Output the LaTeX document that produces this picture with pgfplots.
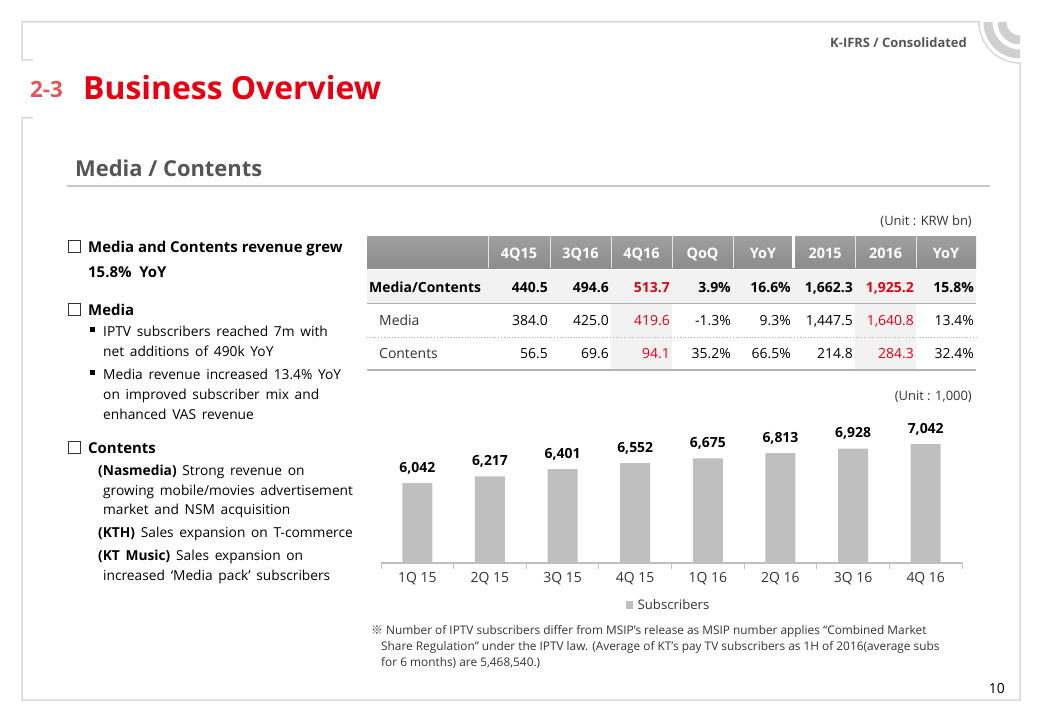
\documentclass[border=0pt]{standalone}
\usepackage{fontspec}
\setmainfont{Open Sans}
\newfontfamily\cjk{Noto Sans CJK KR}
\newfontfamily\lt[WordSpace=1.6]{Open Sans}
\usepackage{pgfplots}
\pgfplotsset{compat=1.18}
\definecolor{ktred}{HTML}{E60012}
\definecolor{ktred2}{HTML}{E2555C}
\definecolor{framec}{HTML}{D9D9D9}
\definecolor{txt}{HTML}{333333}
\definecolor{headc}{HTML}{555555}
\definecolor{barc}{HTML}{BFBFBF}
\definecolor{rowc}{HTML}{F2F2F2}
\definecolor{axisgray}{HTML}{BFBFBF}
\newcommand\fs[1]{\fontsize{#1}{#1}\selectfont}
\newcommand\T[4][]{\node[anchor=base west,inner sep=0pt,#1] at (#2,#3) {#4};}
\newcommand\R[4][]{\node[anchor=base east,inner sep=0pt,#1] at (#2,#3) {#4};}
\newcommand\C[4][]{\node[anchor=base,inner sep=0pt,#1] at (#2,#3) {#4};}
\begin{document}
\begin{tikzpicture}
\begin{scope}[x=1bp,y=-1bp]
\fill[white] (0,0) rectangle (1040,720);
\path[use as bounding box] (0,0) rectangle (1040,720);
% frame
\draw[framec,line width=1.5bp] (33,60) -- (22,60) -- (22,22) -- (979,22) arc[start angle=180,end angle=90,radius=41] -- (1020,700) -- (22,700) -- (22,118) -- (33,118);
\draw[framec!90!gray,line width=9bp] (988,22) arc[start angle=180,end angle=90,radius=32];
\draw[framec!90!gray,line width=9bp] (1002,22) arc[start angle=180,end angle=90,radius=18];
% titles
\R[font=\bfseries\fs{13},text=headc]{967}{48}{K-IFRS / Consolidated}
\T[font=\bfseries\fs{22.5},text=ktred2]{30}{98}{2-3}
\T[font=\bfseries\fs{32},text=ktred]{83}{100}{Business Overview}
\T[font=\bfseries\fs{22},text=headc]{75}{177}{Media / Contents}
\draw[framec!80!gray,line width=1.5bp] (67,186) -- (990,186);
% left text
\begin{scope}[every node/.style={text=black}]
\draw[txt,line width=0.8bp] (68,240) rectangle (80,252);
\T[font=\bfseries\fs{15}]{88}{252}{Media and Contents revenue grew}
\T[font=\bfseries\fs{15}]{88}{277}{15.8\%\ \ YoY}
\draw[txt,line width=0.8bp] (68,303) rectangle (80,315);
\T[font=\bfseries\fs{15}]{88}{315}{Media}
\fill[black] (90,327) rectangle (95,332);
\T[font=\lt\fs{13.8}]{103}{336}{IPTV subscribers reached 7m with}
\T[font=\lt\fs{13.8}]{103}{356}{net additions of 490k YoY}
\fill[black] (90,370) rectangle (95,375);
\T[font=\lt\fs{13.8}]{103}{379}{Media revenue increased 13.4\% YoY}
\T[font=\lt\fs{13.8}]{103}{399}{on improved subscriber mix and}
\T[font=\lt\fs{13.8}]{103}{419}{enhanced VAS revenue}
\draw[txt,line width=0.8bp] (68,441) rectangle (80,453);
\T[font=\bfseries\fs{15}]{88}{453}{Contents}
\T[font=\lt\fs{13.8}]{98}{475}{\textbf{(Nasmedia)} Strong revenue on}
\T[font=\lt\fs{13.8}]{103}{495}{growing mobile/movies advertisement}
\T[font=\lt\fs{13.8}]{103}{514}{market and NSM acquisition}
\T[font=\lt\fs{13.8}]{98}{537}{\textbf{(KTH)} Sales expansion on T-commerce}
\T[font=\lt\fs{13.8}]{98}{560}{\textbf{(KT Music)} Sales expansion on}
\T[font=\lt\fs{13.8}]{103}{580}{increased ‘Media pack’ subscribers}
\end{scope}
% table
\R[font=\fs{13},text=txt]{972}{225}{(Unit : KRW bn)}
\shade[top color=gray!75,bottom color=gray!110!black] (367,236) rectangle (976,268);
\fill[rowc] (367,270) rectangle (976,303);
\fill[rowc] (611,304) rectangle (672,370);
\fill[rowc] (855,304) rectangle (916,370);
\foreach \x in {488,550,611,672,733,855,916} \draw[white!80!gray,line width=0.8bp] (\x,236) -- (\x,268);
\fill[white] (792,236) rectangle (795,268);
\draw[gray!60,line width=1.2bp] (367,303.5) -- (976,303.5);
\draw[gray!60,line width=0.8bp,dotted] (367,337) -- (976,337);
\draw[gray!60,line width=1.2bp] (367,370) -- (976,370);
\foreach \x/\t in {519/4Q15,580.5/3Q16,641.5/4Q16,702.5/QoQ,763/YoY,825/2015,885.5/2016,946/YoY}
  \C[font=\bfseries\fs{14.5},text=white]{\x}{258}{\t};
\T[font=\bfseries\fs{14}]{369}{292}{Media/Contents}
\T[font=\fs{14},text=txt]{379}{325}{Media}
\T[font=\fs{14},text=txt]{379}{358}{Contents}
\foreach \x/\a/\b/\c in {548/440.5/384.0/56.5,609/494.6/425.0/69.6,731/3.9\%/-1.3\%/35.2\%,791/16.6\%/9.3\%/66.5\%,853/{1,662.3}/{1,447.5}/214.8,974/15.8\%/13.4\%/32.4\%}{
  \R[font=\bfseries\fs{14}]{\x}{292}{\a}
  \R[font=\fs{14},text=black]{\x}{325}{\b}
  \R[font=\fs{14},text=black]{\x}{358}{\c}
}
\foreach \x/\a/\b/\c in {670/513.7/419.6/94.1,914/{1,925.2}/{1,640.8}/284.3}{
  \R[font=\bfseries\fs{14},text=ktred]{\x}{292}{\a}
  \R[font=\fs{14},text=ktred]{\x}{325}{\b}
  \R[font=\fs{14},text=ktred]{\x}{358}{\c}
}
% chart unit
\R[font=\fs{13},text=txt]{972}{400}{(Unit : 1,000)}
% footnote
\begin{scope}[every node/.style={text=txt,font=\fs{11.9}}]
\T{371}{634}{{\cjk ※} Number of IPTV subscribers differ from MSIP’s release as MSIP number applies “Combined Market}
\T{381}{650}{Share Regulation” under the IPTV law. (Average of KT’s pay TV subscribers as 1H of 2016(average subs}
\T{381}{666}{for 6 months) are 5,468,540.)}
\end{scope}
\R[font=\fs{14},text=black]{1005}{693}{10}
\end{scope}
\begin{axis}[
  at={(381bp,-563bp)}, anchor=south west,
  width=581bp, height=163bp, scale only axis,
  xmin=-0.5, xmax=7.5, ymin=4000, ymax=8169,
  axis x line*=bottom, axis y line=none,
  x axis line style={draw=axisgray, line width=1.2bp, -},
  xtick={0,...,7},
  xticklabels={1Q 15,2Q 15,3Q 15,4Q 15,1Q 16,2Q 16,3Q 16,4Q 16},
  major tick length=0pt,
  minor xtick={-0.5,0.5,...,7.5}, minor tick length=6bp,
  tick align=outside,
  minor tick style={draw=axisgray, line width=1bp},
  xticklabel style={font=\fs{14}, text=txt, anchor=north, inner sep=0pt, yshift=-9bp},
  ybar, bar width=30bp, clip=false,
  nodes near coords,
  nodes near coords style={font=\bfseries\fs{14}, text=black, anchor=south, inner sep=0pt, yshift=9bp},
  /pgf/number format/1000 sep={,},
  /pgf/number format/assume math mode=true,
  legend style={draw=none, fill=none, at={(0.497,-0.258)}, anchor=center, font=\fs{13.2}, text=txt, inner sep=0pt, nodes={inner xsep=4.5bp, inner ysep=0pt}},
  legend image code/.code={\fill[barc] (0bp,-3.7bp) rectangle (7.5bp,3.8bp);},
]
\addplot[fill=barc, draw=none] coordinates {(0,6042) (1,6217) (2,6401) (3,6552) (4,6675) (5,6813) (6,6928) (7,7042)};
\addlegendentry{Subscribers}
\end{axis}
\end{tikzpicture}
\end{document}
